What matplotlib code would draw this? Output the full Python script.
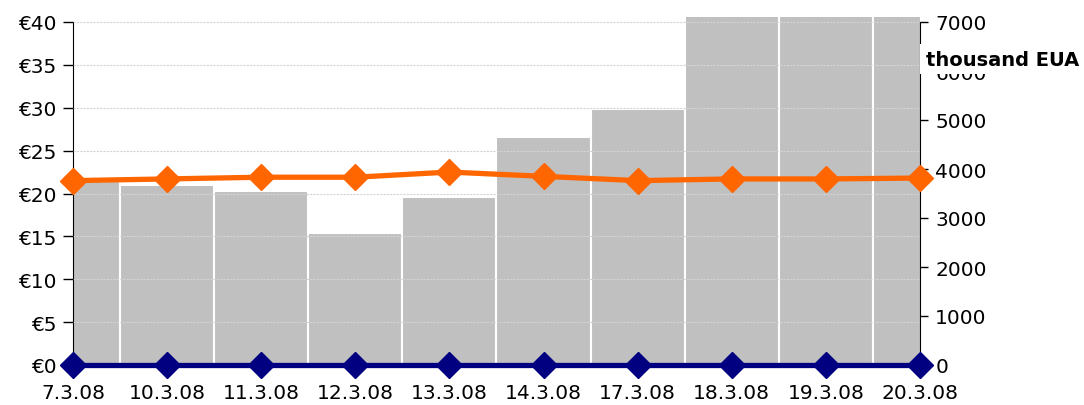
import numpy as np
import matplotlib
matplotlib.use('Agg')
import matplotlib.pyplot as plt

# data
dates = ['7.3.08', '10.3.08', '11.3.08', '12.3.08', '13.3.08',
         '14.3.08', '17.3.08', '18.3.08', '19.3.08', '20.3.08']
volume = [3750, 3670, 3550, 2690, 3430, 4650, 5220, 7500, 7500, 7500]  # thousand EUA (last 3 clipped)
price_orange = [21.5, 21.7, 21.9, 21.9, 22.5, 22.0, 21.5, 21.7, 21.7, 21.8]
price_navy = [0, 0, 0, 0, 0, 0, 0, 0, 0, 0]

x = np.arange(len(dates))

plt.rcParams['font.family'] = 'DejaVu Sans'
fig = plt.figure(figsize=(10.84, 4.06), dpi=100)
ax = fig.add_axes([73/1084, 1-366/406, (920-73)/1084, (366-18)/406])
ax2 = ax.twinx()

# bars on the right axis
ax2.bar(x, volume, width=1.0, color='#c0c0c0', edgecolor='white', linewidth=1.5, zorder=1)
ax2.set_ylim(0, 7000*348/343)
ax2.set_yticks(range(0, 7001, 1000))
ax2.tick_params(axis='y', labelsize=14.5, length=6, width=1, direction='out', pad=5)

# lines on the left axis
ax.set_zorder(ax2.get_zorder()+1)
ax.patch.set_visible(False)
ax.plot(x, price_orange, color='#ff6600', lw=3.8, marker='D', ms=13, clip_on=False, zorder=4)
ax.plot(x, price_navy, color='#000080', lw=3.8, marker='D', ms=13, clip_on=False, zorder=5)
ax.set_ylim(0, 40*348/343)
ax.set_yticks(range(0, 41, 5))
ax.set_yticklabels(['€%d' % v for v in range(0, 41, 5)])
ax.tick_params(axis='y', labelsize=14.5, length=7, width=1, direction='out', pad=5)
ax.set_xlim(0, 9)
ax.set_xticks(x)
ax.set_xticklabels(dates)
ax.tick_params(axis='x', labelsize=14.5, length=0, pad=13)
ax.grid(axis='y', color='#d4d4d4', linestyle=(0, (2, 1)), linewidth=0.8)
ax.set_axisbelow(False)

for a in (ax, ax2):
    a.spines['top'].set_visible(False)
    a.spines['bottom'].set_visible(False)
ax.spines['right'].set_visible(False)
ax2.spines['left'].set_visible(False)
ax.spines['left'].set_bounds(0, 40)
ax2.spines['right'].set_bounds(0, 7000)
ax2.tick_params(axis='x', length=0)

fig.text(926/1084, 1-60/406, 'thousand EUA', fontsize=14, fontweight='bold',
         ha='left', va='center',
         bbox=dict(facecolor='white', edgecolor='none', pad=4))

plt.savefig('out.png', dpi=100)
